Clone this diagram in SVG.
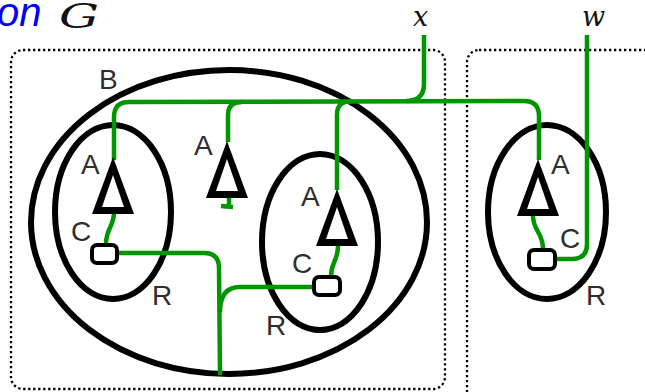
<svg xmlns="http://www.w3.org/2000/svg" width="645" height="392" viewBox="0 0 645 392">
<style>
.frame{fill:none;stroke:#000;stroke-width:2.3;stroke-dasharray:2.3 2.7}
.ell{fill:none;stroke:#000;stroke-width:6}
.wire{fill:none;stroke:#009600;stroke-width:4.5;stroke-linecap:butt}
.box{fill:#fff;stroke:#000;stroke-width:4}
.lbl{font-family:"Liberation Sans","DejaVu Sans",sans-serif;font-size:28px;fill:#2e2e2e}
.math{font-family:"DejaVu Serif","Liberation Serif",serif;font-style:italic;fill:#111}
</style>
<defs>
<path id="tri" d="M0,0 L-21,57 L21,57 Z M0,18 L-11,50 L11,50 Z" fill="#000" fill-rule="evenodd"/>
</defs>
<g id="title">
<text x="-3" y="26" font-family="Liberation Sans, sans-serif" font-style="italic" font-size="40" fill="#0000ff">on</text>
<text class="math" x="59" y="28" font-size="34" textLength="40" lengthAdjust="spacingAndGlyphs">G</text>
</g>
<g id="frames">
<rect class="frame" x="11" y="50" width="434" height="339" rx="12"/>
<rect class="frame" x="467" y="50" width="200" height="360" rx="12"/>
</g>
<g id="B">
<ellipse class="ell" cx="229" cy="222" rx="198" ry="152"/>
<text class="lbl" x="99" y="89">B</text>
</g>
<g id="R1">
<ellipse class="ell" cx="113" cy="212" rx="58" ry="87"/>
<text class="lbl" x="152" y="305">R</text>
</g>
<g id="R2">
<ellipse class="ell" cx="320" cy="242" rx="58" ry="88"/>
<text class="lbl" x="266" y="335">R</text>
</g>
<g id="R3">
<ellipse class="ell" cx="547" cy="212" rx="59" ry="87"/>
<text class="lbl" x="586" y="305">R</text>
</g>
<g id="connectors">
<path class="wire" d="M424,35 L424,84 Q424,101 406,101"/>
<path class="wire" d="M114,160 L114,117 Q114,102 129,102 L524,101 Q539,101 539,116 L539,160"/>
<path class="wire" d="M228,142 L228,115 Q228,102 242,102"/>
<path class="wire" d="M337,190 L337,115 Q337,101 351,101"/>
<path class="wire" d="M587,35 L587,244 Q587,259 572,259 L556,259"/>
<path class="wire" d="M118,253 L204,253 Q219,253 219,268 L220,375"/>
<path class="wire" d="M220,312 Q220,287 240,287 L313,287"/>
<path class="wire" d="M114,212 C114,227 106,228 106,244"/>
<path class="wire" d="M338,246 C338,261 331,262 331,276"/>
<path class="wire" d="M533,216 C533,231 543,232 543,249"/>
<path class="wire" d="M229,198 L229,206 M221,206 L233,207"/>
</g>
<g id="A1">
<use href="#tri" x="113" y="157"/>
<text class="lbl" x="81" y="174">A</text>
</g>
<g id="A2">
<use href="#tri" x="227" y="141"/>
<text class="lbl" x="194" y="155">A</text>
</g>
<g id="A3">
<use href="#tri" x="337" y="189"/>
<text class="lbl" x="301" y="206">A</text>
</g>
<g id="A4">
<use href="#tri" x="538" y="159"/>
<text class="lbl" x="551" y="174">A</text>
</g>
<g id="C1">
<rect class="box" x="92" y="245" width="25" height="18" rx="5"/>
<text class="lbl" x="71" y="241">C</text>
</g>
<g id="C2">
<rect class="box" x="314" y="277" width="26" height="18" rx="5"/>
<text class="lbl" x="292" y="273">C</text>
</g>
<g id="C3">
<rect class="box" x="529" y="250" width="26" height="19" rx="5"/>
<text class="lbl" x="560" y="248">C</text>
</g>
<g id="labels">
<text class="math" x="413" y="26" font-size="27">x</text>
<text class="math" x="582" y="26" font-size="27">w</text>
</g>
</svg>
